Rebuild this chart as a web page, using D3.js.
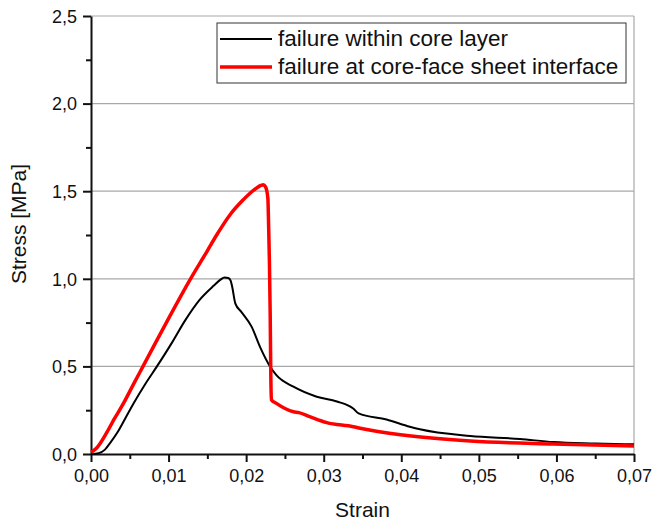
<!DOCTYPE html>
<html>
<head>
<meta charset="utf-8">
<script src="https://cdn.jsdelivr.net/npm/d3@7"></script>
<style>
  body { margin: 0; background: #fff; }
  text { font-family: "Liberation Sans", Arial, sans-serif; fill: #111; }
</style>
</head>
<body>
<svg id="chart" width="653" height="524"></svg>
<script>
// strain / stress
var coreStrain = [0, 0.001, 0.0018, 0.0025, 0.0035, 0.0045, 0.0055, 0.007, 0.0085, 0.0105, 0.0121, 0.014, 0.0158, 0.0167, 0.0172, 0.0177, 0.018, 0.0182, 0.0186, 0.0194, 0.0207, 0.0218, 0.0231, 0.0239, 0.0261, 0.0291, 0.0317, 0.0338, 0.0345, 0.0381, 0.0411, 0.0424, 0.0489, 0.0553, 0.0596, 0.065, 0.07]
var coreStress = [0, 0.005, 0.025, 0.065, 0.13, 0.21, 0.29, 0.40, 0.50, 0.64, 0.76, 0.88, 0.96, 0.995, 1.008, 1.005, 0.99, 0.955, 0.86, 0.81, 0.727, 0.61, 0.498, 0.45, 0.384, 0.327, 0.30, 0.26, 0.232, 0.197, 0.156, 0.141, 0.103, 0.086, 0.068, 0.06, 0.055]

var faceStrain = [0, 0.0007, 0.002, 0.003, 0.0042, 0.0055, 0.0067, 0.0085, 0.0102, 0.0127, 0.015, 0.0162, 0.018, 0.0195, 0.0205, 0.0214, 0.0219, 0.0222, 0.0225, 0.0228, 0.0229, 0.023, 0.0231, 0.02318, 0.02325, 0.0239, 0.0261, 0.0268, 0.0282, 0.0304, 0.0338, 0.0347, 0.0402, 0.0489, 0.0596, 0.07]
var faceStress = [0.01, 0.033, 0.12, 0.2, 0.29, 0.40, 0.50, 0.65, 0.79, 0.99, 1.16, 1.25, 1.37, 1.445, 1.488, 1.52, 1.533, 1.537, 1.525, 1.46, 1.30, 1.1, 0.8, 0.45, 0.31, 0.289, 0.241, 0.236, 0.213, 0.179, 0.156, 0.147, 0.108, 0.074, 0.057, 0.046]

var seriesNames = ["failure within core layer", "failure at core-face sheet interface"]
var seriesColors = ["#000000", "#ff0000"]

var xTicks = [0, 0.01, 0.02, 0.03, 0.04, 0.05, 0.06, 0.07]
var yTicks = [0, 0.5, 1.0, 1.5, 2.0, 2.5]

var margin = {top: 16, right: 19, bottom: 70, left: 91}
var width = 653 - margin.left - margin.right,
    height = 524 - margin.top - margin.bottom

var svg = d3.select("#chart")
  .append("g")
    .attr("transform", "translate(" + margin.left + "," + margin.top + ")")

var x = d3.scaleLinear().domain([0, 0.07]).range([0, width])
var y = d3.scaleLinear().domain([0, 2.5]).range([height, 0])

var comma = function(fmt) {
  var f = d3.format(fmt)
  return function(d) { return f(d).replace(".", ",") }
}

// grid lines
svg.append("g")
  .selectAll("line")
  .data(yTicks.slice(1))
  .join("line")
    .attr("x1", 0).attr("x2", width)
    .attr("y1", d => y(d)).attr("y2", d => y(d))
    .attr("stroke", "#a8a8a8")
    .attr("stroke-width", 1.2)

// right border
svg.append("line")
  .attr("x1", width).attr("x2", width)
  .attr("y1", 0).attr("y2", height)
  .attr("stroke", "#a8a8a8")
  .attr("stroke-width", 1.2)

// minor ticks
svg.append("g")
  .attr("transform", "translate(0," + height + ")")
  .call(d3.axisBottom(x).tickValues(d3.range(0.005, 0.07, 0.01)).tickSize(5).tickFormat(""))
  .call(g => g.select(".domain").remove())
svg.append("g")
  .call(d3.axisLeft(y).tickValues(d3.range(0.25, 2.5, 0.5)).tickSize(5).tickFormat(""))
  .call(g => g.select(".domain").remove())

var xAxis = svg.append("g")
  .attr("transform", "translate(0," + height + ")")
  .call(d3.axisBottom(x).tickValues(xTicks).tickSize(8).tickSizeOuter(0).tickPadding(7).tickFormat(comma(".2f")))
var yAxis = svg.append("g")
  .call(d3.axisLeft(y).tickValues(yTicks).tickSize(8).tickSizeOuter(0).tickPadding(6).tickFormat(comma(".1f")))

svg.selectAll(".tick line, .domain").attr("stroke", "#111").attr("stroke-width", 2)
xAxis.selectAll("text").style("font-size", "18px").attr("fill", "#111")
yAxis.selectAll("text").style("font-size", "18px").attr("fill", "#111").attr("dy", "0.35em")

var line = d3.line()
  .x(d => x(d[0]))
  .y(d => y(d[1]))
  .curve(d3.curveMonotoneX)

svg.append("path")
  .datum(d3.zip(coreStrain, coreStress))
  .attr("fill", "none")
  .attr("stroke", seriesColors[0])
  .attr("stroke-width", 2)
  .attr("stroke-linejoin", "round")
  .attr("d", line)

svg.append("path")
  .datum(d3.zip(faceStrain, faceStress))
  .attr("fill", "none")
  .attr("stroke", seriesColors[1])
  .attr("stroke-width", 3.5)
  .attr("stroke-linejoin", "round")
  .attr("d", line)

// legend
var legend = svg.append("g")
  .attr("transform", "translate(" + (217 - margin.left) + "," + (23 - margin.top) + ")")
legend.append("rect")
  .attr("width", 409).attr("height", 60)
  .attr("fill", "#fff")
  .attr("stroke", "#333")
  .attr("stroke-width", 1)
seriesNames.forEach((name, i) => {
  legend.append("line")
    .attr("x1", 3).attr("x2", 55)
    .attr("y1", 16 + i * 28).attr("y2", 16 + i * 28)
    .attr("stroke", seriesColors[i])
    .attr("stroke-width", i == 0 ? 2 : 3.5)
  legend.append("text")
    .attr("x", 61)
    .attr("y", 23 + i * 28)
    .style("font-size", "22.5px")
    .text(name)
})

// axis titles
svg.append("text")
  .attr("x", width / 2)
  .attr("y", height + 63)
  .attr("text-anchor", "middle")
  .style("font-size", "21px")
  .text("Strain")

svg.append("text")
  .attr("transform", "translate(" + (26 - margin.left) + "," + (224 - margin.top) + ") rotate(-90)")
  .attr("text-anchor", "middle")
  .style("font-size", "21px")
  .text("Stress [MPa]")
</script>
</body>
</html>
